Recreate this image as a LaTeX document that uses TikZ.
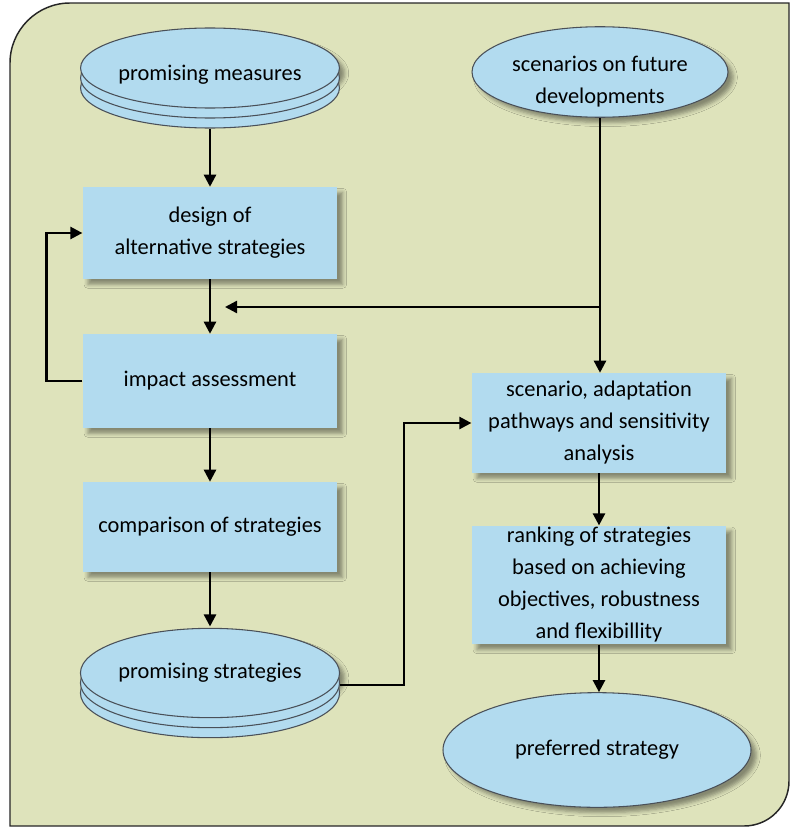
\documentclass[tikz,border=0pt]{standalone}
\usepackage{fontspec}
\setmainfont{Carlito}
\usepackage{tikz}
\usetikzlibrary{positioning,shapes.geometric,arrows.meta,shadows,shadows.blur}
\definecolor{panelbg}{HTML}{DEE3BB}
\definecolor{boxblue}{HTML}{B2DBEF}
\definecolor{rimgray}{HTML}{4A5058}
\newcommand{\sunk}[2]{\raisebox{-#1}[\height][\depth]{#2}}
\tikzset{
  panel/.style={fill=panelbg, draw=black!85, line width=1.1pt},
  stepbox/.style={rectangle, fill=boxblue, minimum width=191pt, inner sep=1pt, align=center,
    blur shadow={shadow xshift=4pt, shadow yshift=-4pt, shadow blur radius=3pt, shadow opacity=40}},
  terminal/.style={ellipse, fill=boxblue, draw=rimgray, line width=0.8pt, inner sep=0pt, align=center,
    blur shadow={shadow xshift=4pt, shadow yshift=-4pt, shadow blur radius=3pt, shadow opacity=40}},
  stacked/.style={double copy shadow={shadow xshift=0pt, shadow yshift=-7.5pt}},
  flowarrow/.style={-{Triangle[length=9pt,width=9pt]}, line width=1.8pt}
}

\begin{document}
\begin{tikzpicture}[x=0.75pt, y=-0.75pt, font=\fontsize{16.8}{24}\selectfont]
  \useasboundingbox (0,0) rectangle (789,828);

  % panel with two rounded corners
  \path[panel] (10,826) -- (10,63)
    .. controls (10,30) and (37,3) .. (70,3)
    -- (789,3) -- (789,781)
    .. controls (789,806) and (769,826) .. (744,826) -- cycle;

  % left column
  \node[terminal, stacked, minimum width=192pt, minimum height=60pt] (measures) at (210,68) {\sunk{5pt}{promising measures}};
  \node[stepbox, minimum height=69pt] (design) at (210,233) {design of\\alternative strategies};
  \node[stepbox, minimum height=70.5pt] (impact) at (210,381) {impact assessment};
  \node[stepbox, minimum height=67.5pt] (compare) at (210,527) {comparison of strategies};
  \node[terminal, stacked, minimum width=192pt, minimum height=67pt] (strategies) at (210,673) {promising strategies};

  % right column
  \node[terminal, minimum width=192pt, minimum height=67.5pt] (scenarios) at (600,72)
    {\sunk{7pt}{\begin{tabular}{@{}c@{}}scenarios on future\\developments\end{tabular}}};
  \node[stepbox, minimum height=75pt] (sensitivity) at (599,423) {scenario, adaptation\\pathways and sensitivity\\analysis};
  \node[stepbox, minimum height=89pt] (ranking) at (599,585) {ranking of strategies\\based on achieving\\objectives, robustness\\and flexibillity};
  \node[terminal, minimum width=231pt, minimum height=86pt] (preferred) at (597,750) {preferred strategy};

  \coordinate (branch) at (scenarios.south |- 0,307);
  \coordinate (feedin) at (225,307);
  \coordinate (bend) at (404,685);

  \draw[flowarrow] ([yshift=-15pt]measures.south) -- (design.north);
  \draw[flowarrow] (design) -- (impact);
  \draw[flowarrow] (impact.west) -- ++(-36,0) |- (design.west);
  \draw[flowarrow] (impact) -- (compare);
  \draw[flowarrow] (compare) -- ([yshift=1pt]strategies.north);
  \draw[flowarrow] (scenarios.south) -- (scenarios.south |- sensitivity.north);
  \draw[flowarrow] (branch) -- (feedin);
  \draw[flowarrow] ([yshift=-9pt]strategies.east) -- (bend) |- (sensitivity.west);
  \draw[flowarrow] (sensitivity) -- (ranking);
  \draw[flowarrow] (ranking.south) -- (ranking.south |- preferred.north);
\end{tikzpicture}
\end{document}
